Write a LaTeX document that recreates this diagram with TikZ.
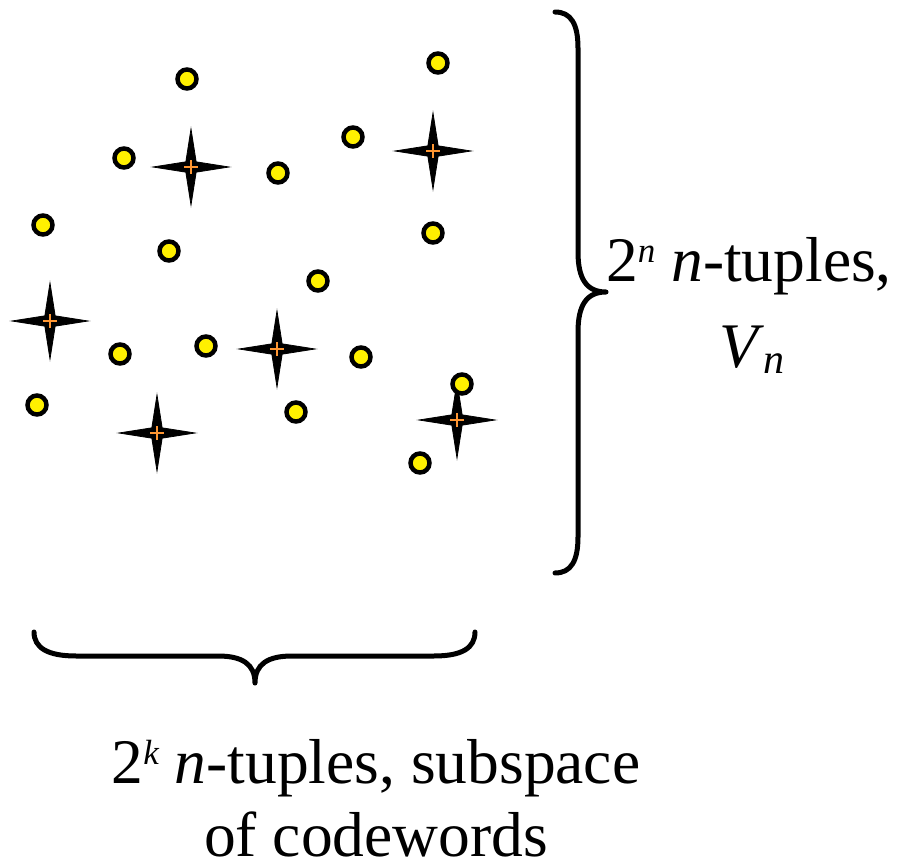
\documentclass[tikz,border=0pt]{standalone}
\usepackage{fontspec}
\setmainfont{Liberation Serif}
\usetikzlibrary{shapes.geometric}
\definecolor{dotyellow}{RGB}{255,240,0}
\definecolor{crossorange}{RGB}{255,150,50}
\tikzset{
  dot/.style={circle,draw=black,fill=dotyellow,line width=4.5pt,minimum size=19pt,inner sep=0pt},
  codestar/.style={star,star points=4,star point ratio=5.2,minimum size=76pt,inner sep=0pt,fill=black,draw=black,line width=0.8pt},
  cross/.style={draw=crossorange,line width=2pt},
  bracepath/.style={line width=5pt,line cap=round,line join=round},
  lbl/.style={inner sep=0pt,anchor=base,font=\fontsize{63.5}{72}\selectfont}
}
\newcommand{\supit}[1]{\raisebox{19pt}{\fontsize{35}{35}\selectfont\itshape #1}}
\newcommand{\subit}[1]{\raisebox{-6pt}{\fontsize{42}{42}\selectfont\itshape #1}}
\begin{document}
\begin{tikzpicture}[x=1pt,y=-1pt]
\useasboundingbox (0,0) rectangle (914,864);
% stars (codewords)
\foreach \n/\x/\y in {1/191/167, 2/433/151, 3/50/321, 4/277/349, 5/157/433, 6/457/420}{
  \node[codestar] (s\n) at (\x,\y) {};
  \draw[cross] ([xshift=-7pt]s\n.center) -- ([xshift=7pt]s\n.center);
  \draw[cross] ([yshift=-7pt]s\n.center) -- ([yshift=7pt]s\n.center);
}
% dots (n-tuples)
\foreach \n/\x/\y in {1/187/79, 2/438/63, 3/124/158, 4/278/173, 5/353/137, 6/43/225, 7/169/251, 8/433/233,
  9/318/281, 10/120/354, 11/206/346, 12/361/357, 13/37/405, 14/296/412, 15/462/384, 16/420/463}{
  \node[dot] (d\n) at (\x,\y) {};
}
% right brace
\coordinate (rtop) at (555,12);
\coordinate (rtip) at (606,292);
\coordinate (rbot) at (555,573);
\draw[bracepath] (rtop) .. controls (571,12) and (578,24) .. (578,48)
  -- (578,252) .. controls (578,278) and (586,292) .. (rtip)
  .. controls (586,292) and (578,306) .. (578,332)
  -- (578,537) .. controls (578,561) and (571,573) .. (rbot);
% bottom brace
\coordinate (bl) at (34,632);
\coordinate (btip) at (255,683);
\coordinate (br) at (475,632);
\draw[bracepath] (bl) .. controls (34,648) and (48,656) .. (76,656)
  -- (218,656) .. controls (242,656) and (255,664) .. (btip)
  .. controls (255,664) and (268,656) .. (292,656)
  -- (434,656) .. controls (462,656) and (475,648) .. (br);
% labels
\node[lbl] (r1) at (749,281) {2\supit{n} \textit{n}-tuples,};
\node[lbl] (r2) at (752,367) {\textit{V}\subit{n}};
\node[lbl] (b1) at (376,783) {2\supit{k} \textit{n}-tuples, subspace};
\node[lbl] (b2) at (376,856) {of codewords};
\end{tikzpicture}
\end{document}
